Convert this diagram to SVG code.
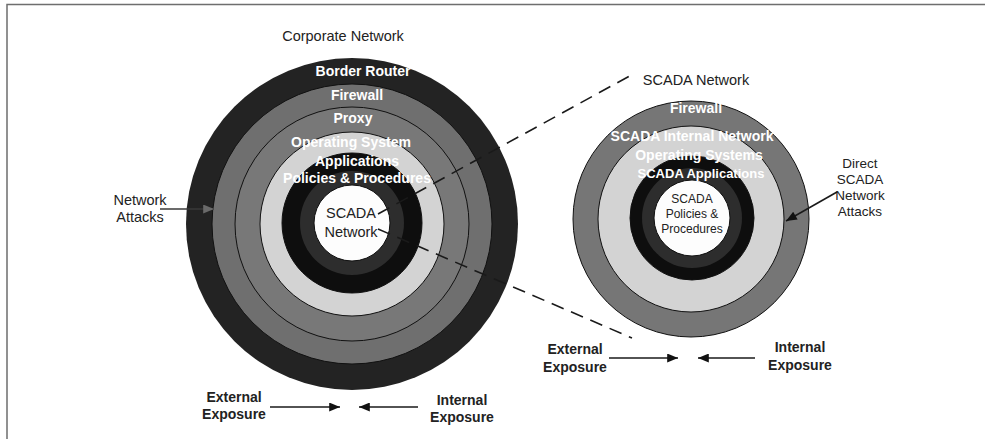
<svg xmlns="http://www.w3.org/2000/svg" width="985" height="439" viewBox="0 0 985 439">
<defs>
<style>
.t{font-family:"Liberation Sans",Arial,sans-serif;text-anchor:middle}
.w{fill:#ffffff;font-weight:bold;font-size:14px}
.d{fill:#222222;font-size:14.5px}
.b{fill:#222222;font-weight:bold;font-size:14px}
.ring{stroke:#111111;stroke-width:1}
.dash{fill:none;stroke:#1a1a1a;stroke-width:1.6;stroke-dasharray:13 8}
.arr{fill:none;stroke:#1a1a1a;stroke-width:1.6}
</style>
<marker id="ah" viewBox="0 0 12 10" refX="12" refY="5" markerWidth="13" markerHeight="9" markerUnits="userSpaceOnUse" orient="auto">
<path d="M0,0 L12,5 L0,10 Z" fill="#111111"/>
</marker>
<marker id="ahg" viewBox="0 0 12 10" refX="12" refY="5" markerWidth="13" markerHeight="9" markerUnits="userSpaceOnUse" orient="auto">
<path d="M0,0 L12,5 L0,10 Z" fill="#6a6a6a"/>
</marker>
</defs>
<rect width="985" height="439" fill="#ffffff"/>
<path d="M7,439 V4.5 H985" fill="none" stroke="#6e6e6e" stroke-width="1.5"/>

<g id="corporate-network">
<circle cx="352" cy="224" r="166" fill="#232323"/>
<circle class="ring" cx="352" cy="224" r="140" fill="#6f6f6f"/>
<circle class="ring" cx="352" cy="224" r="117" fill="#787878"/>
<circle class="ring" cx="352" cy="224" r="92" fill="#d3d3d3"/>
<circle class="ring" cx="352" cy="223" r="70" fill="#0e0e0e"/>
<circle cx="352" cy="223" r="52" fill="#2d2d2d"/>
<circle class="ring" cx="352" cy="223" r="38" fill="#fdfdfd"/>
<text class="t d" x="343" y="41">Corporate Network</text>
<text class="t w" x="363" y="76">Border Router</text>
<text class="t w" x="357" y="100">Firewall</text>
<text class="t w" x="353" y="123">Proxy</text>
<text class="t w" x="351" y="147">Operating System</text>
<text class="t w" x="357" y="166">Applications</text>
<text class="t w" x="357" y="183">Policies &amp; Procedures</text>
<text class="t d" x="351" y="218">SCADA</text>
<text class="t d" x="351" y="237">Network</text>
</g>

<g id="scada-network">
<circle class="ring" cx="691" cy="219" r="118" fill="#767676"/>
<circle class="ring" cx="691" cy="219" r="93" fill="#d3d3d3"/>
<circle class="ring" cx="692" cy="218" r="62" fill="#0e0e0e"/>
<circle cx="692" cy="218" r="50" fill="#2d2d2d"/>
<circle class="ring" cx="692" cy="218" r="38" fill="#fdfdfd"/>
<text class="t d" x="696" y="85">SCADA Network</text>
<text class="t w" x="696" y="113">Firewall</text>
<text class="t w" x="692" y="141">SCADA Internal Network</text>
<text class="t w" x="699" y="160">Operating Systems</text>
<text class="t w" x="701" y="178" style="font-size:13px">SCADA Applications</text>
<text class="t" x="692" y="203" style="font-size:12px;fill:#222">SCADA</text>
<text class="t" x="692" y="218" style="font-size:12px;fill:#222">Policies &amp;</text>
<text class="t" x="692" y="233" style="font-size:12px;fill:#222">Procedures</text>
</g>

<g id="network-attacks">
<text class="t d" x="140" y="205">Network</text>
<text class="t d" x="140" y="222">Attacks</text>
</g>

<g id="direct-scada-attacks">
<text class="t d" x="860" y="168" style="font-size:13.5px">Direct</text>
<text class="t d" x="860" y="184" style="font-size:13.5px">SCADA</text>
<text class="t d" x="860" y="200" style="font-size:13.5px">Network</text>
<text class="t d" x="860" y="216" style="font-size:13.5px">Attacks</text>
</g>

<g id="exposure-left">
<text class="t b" x="234" y="402">External</text>
<text class="t b" x="234" y="419">Exposure</text>
<text class="t b" x="462" y="405">Internal</text>
<text class="t b" x="462" y="422">Exposure</text>
</g>

<g id="exposure-right">
<text class="t b" x="575" y="354">External</text>
<text class="t b" x="575" y="372">Exposure</text>
<text class="t b" x="800" y="352">Internal</text>
<text class="t b" x="800" y="370">Exposure</text>
</g>

<g id="connectors">
<line class="dash" x1="378" y1="214" x2="635" y2="73"/>
<line class="dash" x1="378" y1="229" x2="632" y2="338"/>
<line x1="160" y1="209" x2="214" y2="209" stroke="#3a3a3a" stroke-width="1.6" marker-end="url(#ahg)"/>
<line class="arr" x1="837" y1="192" x2="786" y2="221" marker-end="url(#ah)"/>
<line class="arr" x1="270" y1="407" x2="340" y2="407" marker-end="url(#ah)"/>
<line class="arr" x1="418" y1="407" x2="359" y2="407" marker-end="url(#ah)"/>
<line class="arr" x1="609" y1="358" x2="678" y2="358" marker-end="url(#ah)"/>
<line class="arr" x1="755" y1="358" x2="698" y2="358" marker-end="url(#ah)"/>
</g>
</svg>
